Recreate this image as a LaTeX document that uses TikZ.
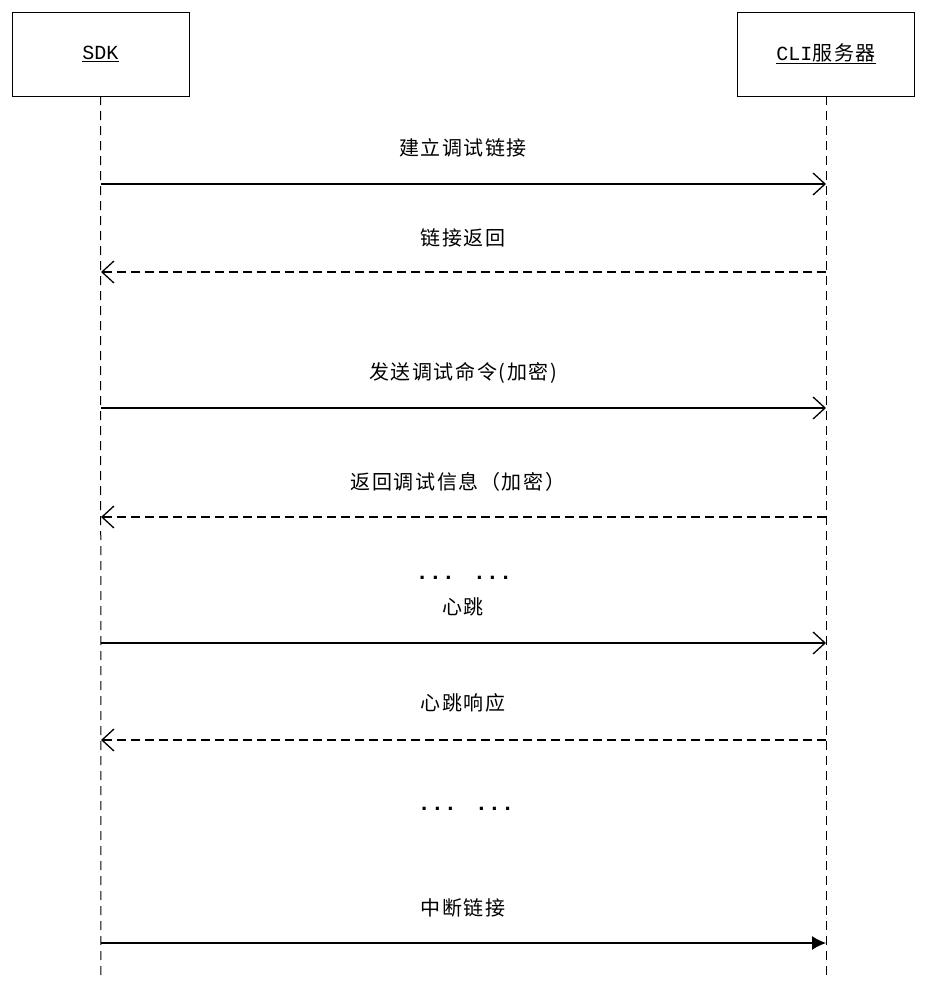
\documentclass[tikz,border=0pt]{standalone}
\usepackage{fontspec}
\setmainfont{Liberation Mono}
\newfontfamily\cjk[LetterSpace=8]{Noto Sans CJK SC}
\usetikzlibrary{arrows.meta}
\tikzset{
  party/.style={draw, minimum width=177pt, minimum height=84pt, inner sep=0pt},
  life/.style={dashed, dash pattern=on 9pt off 6pt, line width=1pt},
  msg/.style={line width=1.3pt, -{Straight Barb[length=12pt,width=22pt,line width=1.3pt]}},
  reply/.style={msg, dash pattern=on 9pt off 5pt},
  lbl/.style={font=\cjk\fontsize{20}{24}\selectfont, inner sep=0pt},
  dots/.style={font=\bfseries\fontsize{22}{24}\selectfont, inner sep=0pt}
}
\begin{document}
\begin{tikzpicture}[x=1pt,y=-1pt]
\useasboundingbox (0,0) rectangle (924,1000);
\node[party] (sdk) at (100.5,54) {\fontsize{20}{24}\selectfont\underline{SDK}};
\node[party] (cli) at (826,54) {\fontsize{20}{24}\selectfont\underline{CLI{\cjk 服务器}}};
\coordinate (sdkend) at (101,980);
\coordinate (cliend) at (826,980);
\draw[life] (sdk.south) -- (sdkend);
\draw[life] (cli.south) -- (cliend);

% messages
\foreach \y/\n in {184/a, 272/b, 408/c, 517/d, 643/e, 740/f, 943/g} {
  \coordinate (s\n) at (101,\y);
  \coordinate (c\n) at (826,\y);
}
\draw[msg] (sa) -- (ca);
\draw[reply] (cb) -- (sb);
\draw[msg] (sc) -- (cc);
\draw[reply] (cd) -- (sd);
\draw[msg] (se) -- (ce);
\draw[reply] (cf) -- (sf);
\draw[line width=1.3pt, -{Latex[length=14pt,width=14pt]}] (sg) -- (cg);

\node[lbl] (la) at (463,148) {建立调试链接};
\node[lbl] (lb) at (463,238) {链接返回};
\node[lbl] (lc) at (463,373) {发送调试命令(加密)};
\node[lbl] (ld) at (458,482) {返回调试信息（加密）};
\node[dots] (dots1) at (464,578) {... ...};
\node[lbl] (le) at (463,607) {心跳};
\node[lbl] (lf) at (463,703) {心跳响应};
\node[dots] (dots2) at (466,809) {... ...};
\node[lbl] (lg) at (463,908) {中断链接};
\end{tikzpicture}
\end{document}
